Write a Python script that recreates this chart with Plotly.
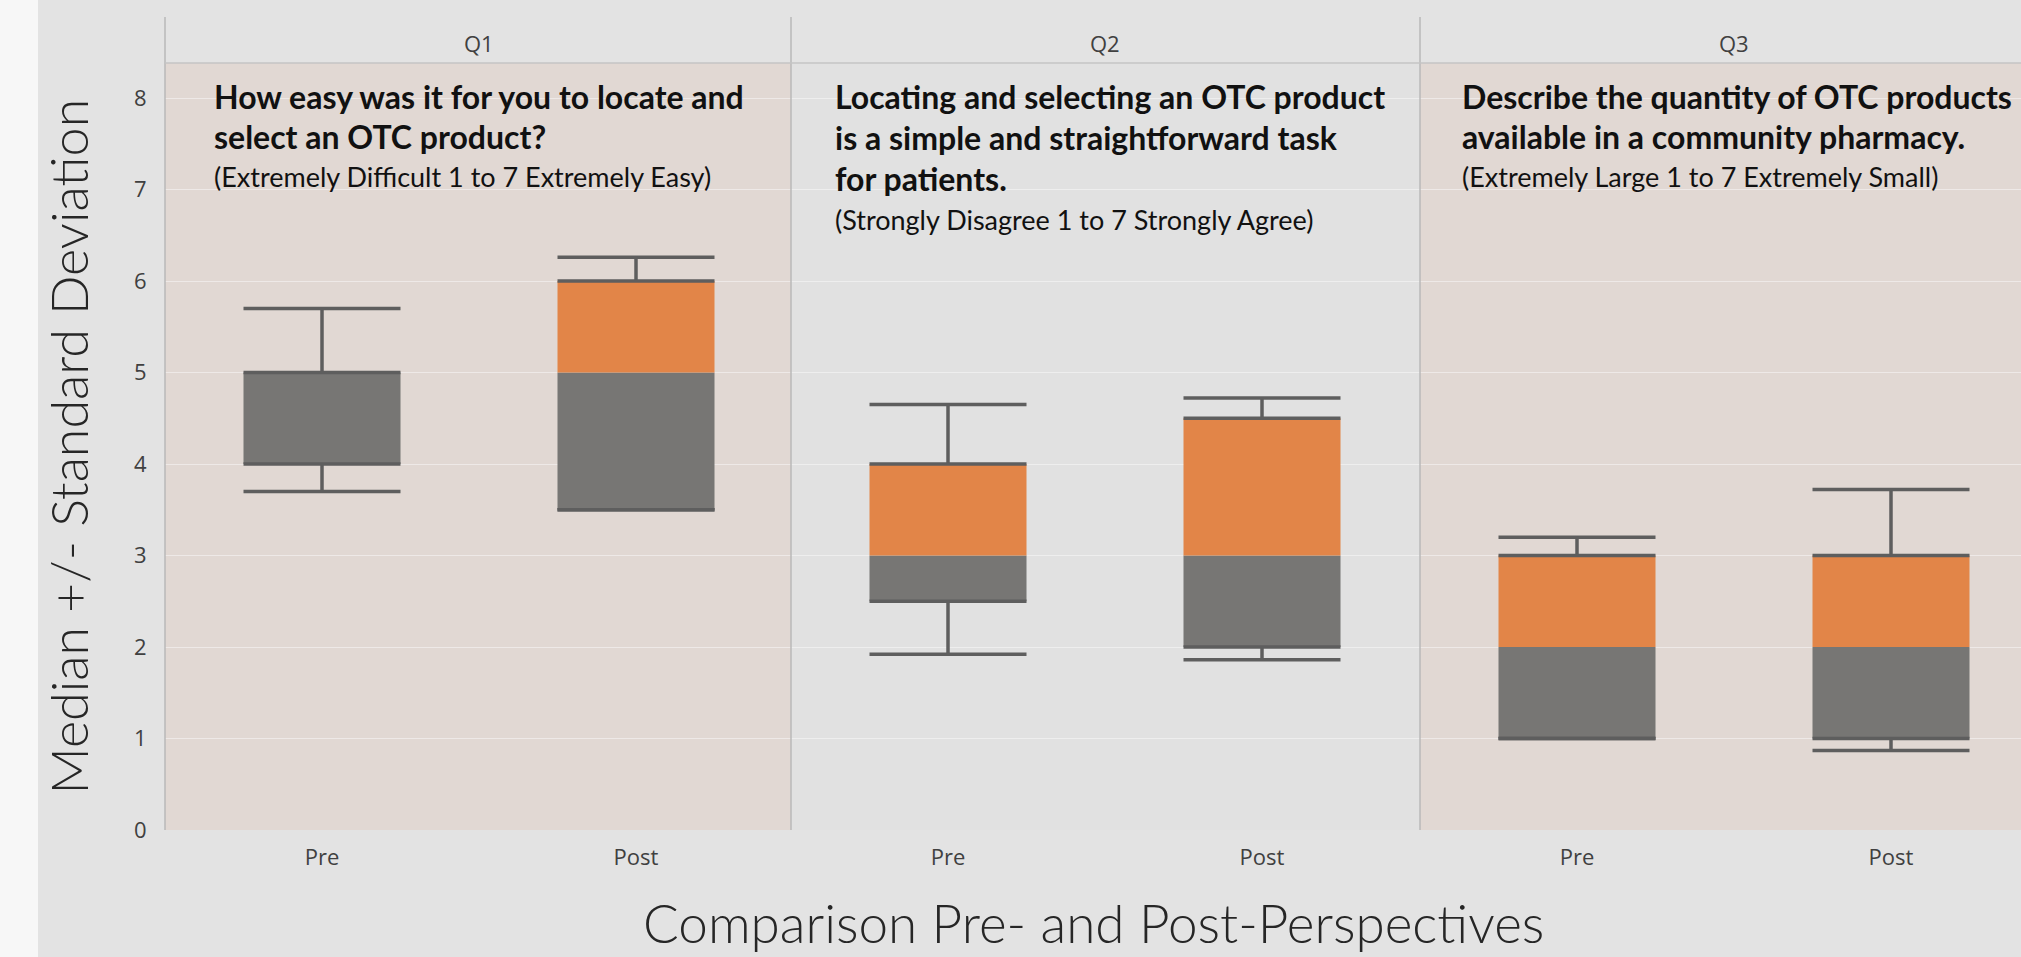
import plotly.graph_objects as go
from plotly.subplots import make_subplots

# ---------------- data ----------------
questions = ["Q1", "Q2", "Q3"]
categories = ["Pre", "Post"]
box_low = [[4.0, 3.5], [2.5, 2.0], [1.0, 1.0]]          # lower edge of box
median = [[5.0, 5.0], [3.0, 3.0], [2.0, 2.0]]
box_high = [[5.0, 6.0], [4.0, 4.5], [3.0, 3.0]]         # upper edge of box
whisker_high = [[5.70, 6.26], [4.65, 4.72], [3.20, 3.72]]
whisker_low = [[3.70, 3.50], [1.92, 1.86], [1.00, 0.87]]

question_bold = [
    ["How easy was it for you to locate and", "select an OTC product?"],
    ["Locating and selecting an OTC product", "is a simple and straightforward task", "for patients."],
    ["Describe the quantity of OTC products", "available in a community pharmacy."],
]
question_scale = [
    "(Extremely Difficult 1 to 7 Extremely Easy)",
    "(Strongly Disagree 1 to 7 Strongly Agree)",
    "(Extremely Large 1 to 7 Extremely Small)",
]
y_title = "Median +/- Standard Deviation"
x_title = "Comparison Pre- and Post-Perspectives"
y_ticks = list(range(0, 9))

# ---------------- layout constants ----------------
W, H = 2021, 957
L, R, T, B = 165, 0, 63, 127
PW, PH = W - L - R, H - T - B
panel_px = [(165, 791), (791, 1420), (1420, 2021)]
unit_px = 314.0

GRAY = "#777674"
ORANGE = "#e28548"
EDGE = "#5e5e5e"
PANEL_BG = ["#e1d8d3", "#e1e1e1", "#e1d8d3"]
PAPER = "#e3e3e3"


def px_x(p):
    return (p - L) / PW


def px_y(p):
    return (H - B - p) / PH


fig = make_subplots(rows=1, cols=3, shared_yaxes=True, horizontal_spacing=0)

for i, q in enumerate(questions):
    col = i + 1
    xs = list(range(len(categories)))
    lower_h = [m - lo for m, lo in zip(median[i], box_low[i])]
    upper_h = [hi - m for hi, m in zip(box_high[i], median[i])]
    fig.add_trace(go.Bar(x=xs, y=lower_h, base=box_low[i], width=0.5,
                         marker=dict(color=GRAY, line=dict(width=0)),
                         hoverinfo="skip", showlegend=False), row=1, col=col)
    fig.add_trace(go.Bar(x=xs, y=upper_h, base=median[i], width=0.5,
                         marker=dict(color=ORANGE, line=dict(width=0)),
                         hoverinfo="skip", showlegend=False), row=1, col=col)
    lx, ly = [], []
    for j in xs:
        lx += [j, j, None, j - 0.25, j + 0.25, None]
        ly += [box_high[i][j], whisker_high[i][j], None, whisker_high[i][j], whisker_high[i][j], None]
        lx += [j, j, None, j - 0.25, j + 0.25, None]
        ly += [box_low[i][j], whisker_low[i][j], None, whisker_low[i][j], whisker_low[i][j], None]
        lx += [j - 0.25, j + 0.25, None, j - 0.25, j + 0.25, None]
        ly += [box_low[i][j], box_low[i][j], None, box_high[i][j], box_high[i][j], None]
    fig.add_trace(go.Scatter(x=lx, y=ly, mode="lines",
                             line=dict(color=EDGE, width=3.5),
                             hoverinfo="skip", showlegend=False), row=1, col=col)

    x0, x1 = panel_px[i]
    span = (x1 - x0) / unit_px
    axname = "xaxis" if i == 0 else f"xaxis{col}"
    fig.layout[axname].update(
        domain=[px_x(x0), px_x(x1)],
        range=[-0.5, -0.5 + span],
        tickmode="array", tickvals=xs, ticktext=categories,
        showgrid=False, zeroline=False, showline=False,
        ticks="outside", ticklen=8, tickcolor="rgba(0,0,0,0)",
        tickfont=dict(family="Open Sans", size=22, color="#404040"),
        fixedrange=True,
    )
    xref = "x domain" if i == 0 else f"x{col} domain"
    fig.add_shape(type="rect", xref=xref, yref="paper", x0=0, x1=1, y0=0, y1=1,
                  fillcolor=PANEL_BG[i], line=dict(width=0), layer="below")
    fig.add_shape(type="line", xref="paper", yref="paper",
                  x0=px_x(x0), x1=px_x(x0), y0=0, y1=px_y(17),
                  line=dict(color="#b9b9b9", width=1.5))
    fig.add_annotation(text=q, xref="paper", yref="paper",
                       x=px_x(x0 + unit_px), y=px_y(43), showarrow=False,
                       xanchor="center", yanchor="middle",
                       font=dict(family="Open Sans", size=22, color="#404040"))
    tx = px_x(x0 + (47 if i == 0 else 42 if i == 1 else 40))
    y0p = 96
    step = 40.5 if i != 1 else 41.5
    for k, line in enumerate(question_bold[i]):
        fig.add_annotation(text=f"<b>{line}</b>", xref="paper", yref="paper",
                           x=tx, y=px_y(y0p + step * k), xanchor="left", yanchor="middle",
                           showarrow=False,
                           font=dict(family="Lato", size=32, color="#111111"))
    fig.add_annotation(text=question_scale[i], xref="paper", yref="paper",
                       x=tx, y=px_y(y0p + step * len(question_bold[i]) - 1), xanchor="left",
                       yanchor="middle", showarrow=False,
                       font=dict(family="Lato", size=27, color="#111111"))

fig.add_shape(type="line", xref="paper", yref="paper", x0=0, x1=1, y0=1, y1=1,
              line=dict(color="#c4c4c4", width=1.5))
fig.add_shape(type="rect", xref="paper", yref="paper",
              x0=px_x(-5), x1=px_x(38), y0=px_y(H + 5), y1=px_y(-5),
              fillcolor="#f7f7f7", line=dict(width=0), layer="below")

fig.update_yaxes(range=[0, (H - B - T) / 91.5], tickvals=y_ticks,
                 showgrid=True, gridcolor="rgba(255,255,255,0.45)", gridwidth=1,
                 zeroline=False, showline=False,
                 ticks="outside", ticklen=13, tickcolor="rgba(0,0,0,0)",
                 tickfont=dict(family="Open Sans", size=22, color="#404040"),
                 fixedrange=True)

fig.add_annotation(text=x_title, xref="paper", yref="paper", x=0.5, y=px_y(922),
                   xanchor="center", yanchor="middle", showarrow=False,
                   font=dict(family="Lato", size=53, color="#262626", weight=300))
fig.add_annotation(text=y_title, xref="paper", yref="paper", x=px_x(67), y=0.5,
                   xanchor="center", yanchor="middle", showarrow=False, textangle=-90,
                   font=dict(family="Lato", size=52, color="#262626", weight=300))

fig.update_layout(
    width=W, height=H,
    margin=dict(l=L, r=R, t=T, b=B, pad=0),
    paper_bgcolor=PAPER, plot_bgcolor=PANEL_BG[1],
    barmode="overlay", showlegend=False,
)

fig.write_html("out.html", config={"displayModeBar": False},
               post_script="document.body.style.margin='0';document.body.style.overflow='hidden';")
